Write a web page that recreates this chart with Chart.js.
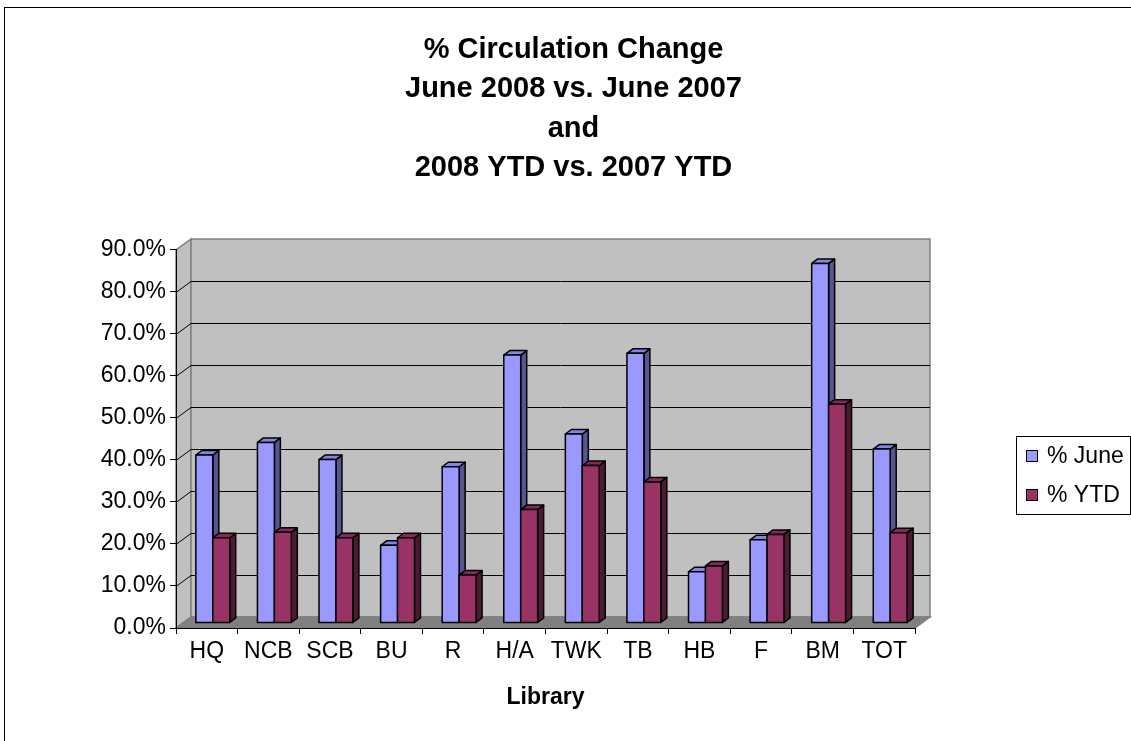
<!DOCTYPE html>
<html>
<head>
<meta charset="utf-8">
<script src="https://cdn.jsdelivr.net/npm/chart.js@4.4.1/dist/chart.umd.min.js"></script>
<style>
  html, body { margin: 0; padding: 0; background: #fff; }
</style>
</head>
<body>
<canvas id="chart" width="1131" height="741"></canvas>
<script>
// data
const categories = ['HQ', 'NCB', 'SCB', 'BU', 'R', 'H/A', 'TWK', 'TB', 'HB', 'F', 'BM', 'TOT'];
const juneValues = [40.0, 43.0, 38.9, 18.5, 37.2, 63.8, 45.0, 64.2, 12.2, 19.8, 85.6, 41.4];
const ytdValues  = [20.3, 21.6, 20.3, 20.3, 11.4, 27.0, 37.5, 33.6, 13.6, 21.1, 52.1, 21.5];
const seriesNames = ['% June', '% YTD'];
const titleLines = ['% Circulation Change', 'June 2008 vs. June 2007', 'and', '2008 YTD vs. 2007 YTD'];
const yMin = 0, yMax = 90, yStep = 10;

const FONT = "'Liberation Sans', Arial, sans-serif";
const colors = [
  { front: '#9999ff', top: '#8484e6', side: '#55558f' },
  { front: '#993366', top: '#85295a', side: '#4d1a33' }
];

// 3d look
const WALL_DX = 15, WALL_DY = -11;  // back wall offset from front axis
const BAR_X = 6, BAR_Y = -5;        // plane where the bar fronts sit
const BAR_DX = 6, BAR_DY = -4.5;    // bar thickness

function poly(ctx, pts, fill, stroke) {
  ctx.beginPath();
  ctx.moveTo(pts[0][0], pts[0][1]);
  for (let i = 1; i < pts.length; i++) ctx.lineTo(pts[i][0], pts[i][1]);
  ctx.closePath();
  if (fill) { ctx.fillStyle = fill; ctx.fill(); }
  if (stroke) { ctx.strokeStyle = stroke; ctx.stroke(); }
}

function drawBar(ctx, el, c) {
  const p = el.getProps(['x', 'y', 'base', 'width'], true);
  const l = p.x - p.width / 2 + BAR_X, r = p.x + p.width / 2 + BAR_X;
  const t = p.y + BAR_Y, b = p.base + BAR_Y;
  ctx.lineWidth = 1.5;
  ctx.lineJoin = 'round';
  poly(ctx, [[r, b], [r, t], [r + BAR_DX, t + BAR_DY], [r + BAR_DX, b + BAR_DY]], c.side, '#000');
  poly(ctx, [[l, t], [r, t], [r + BAR_DX, t + BAR_DY], [l + BAR_DX, t + BAR_DY]], c.top, '#000');
  poly(ctx, [[l, b], [r, b], [r, t], [l, t]], c.front, '#000');
}

const walls3d = {
  id: 'walls3d',
  beforeDraw(chart) {
    const { ctx, chartArea: a, scales } = chart;
    const ys = scales.y;
    ctx.save();
    ctx.fillStyle = '#fff';
    ctx.fillRect(0, 0, chart.width, chart.height);
    ctx.strokeStyle = '#000';
    ctx.lineWidth = 1;
    ctx.strokeRect(4.5, 7.5, chart.width + 20, chart.height + 20);

    const L = a.left, R = a.right, T = a.top, B = a.bottom;
    ctx.lineWidth = 1.5;
    // side wall
    poly(ctx, [[L, B], [L, T], [L + WALL_DX, T + WALL_DY], [L + WALL_DX, B + WALL_DY]], '#c0c0c0', '#808080');
    // back wall
    poly(ctx, [[L + WALL_DX, T + WALL_DY], [R + WALL_DX, T + WALL_DY], [R + WALL_DX, B + WALL_DY], [L + WALL_DX, B + WALL_DY]], '#c0c0c0', '#808080');
    // floor
    poly(ctx, [[L, B], [R, B], [R + WALL_DX, B + WALL_DY], [L + WALL_DX, B + WALL_DY]], '#808080', '#808080');

    // gridlines across side and back wall
    ctx.lineWidth = 1;
    ctx.strokeStyle = '#000';
    ys.ticks.forEach(tk => {
      if (tk.value <= yMin || tk.value >= yMax) return;
      const y = Math.round(ys.getPixelForValue(tk.value)) + 0.5;
      ctx.beginPath();
      ctx.moveTo(L, y);
      ctx.lineTo(L + WALL_DX, y + WALL_DY);
      ctx.lineTo(R + WALL_DX, y + WALL_DY);
      ctx.stroke();
    });
    ctx.restore();
  },
  beforeDatasetsDraw(chart) {
    const ctx = chart.ctx;
    const metas = chart.data.datasets.map((d, i) => chart.getDatasetMeta(i));
    ctx.save();
    categories.forEach((c, j) => {
      metas.forEach((m, i) => drawBar(ctx, m.data[j], colors[i]));
    });
    ctx.restore();
    return false;
  },
  afterDraw(chart) {
    const ctx = chart.ctx;
    ctx.save();
    ctx.fillStyle = '#fff';
    ctx.strokeStyle = '#000';
    ctx.lineWidth = 1;
    ctx.fillRect(1016.5, 436.5, 114, 78);
    ctx.strokeRect(1016.5, 436.5, 114, 78);
    ctx.font = '23px ' + FONT;
    ctx.textBaseline = 'middle';
    chart.data.datasets.forEach((ds, i) => {
      const cy = 457 + i * 39;
      ctx.fillStyle = colors[i].front;
      ctx.fillRect(1026.5, cy - 6.5, 11, 11);
      ctx.strokeRect(1026.5, cy - 6.5, 11, 11);
      ctx.fillStyle = '#000';
      ctx.fillText(ds.label, 1047, cy);
    });
    ctx.restore();
  }
};

new Chart(document.getElementById('chart'), {
  type: 'bar',
  data: {
    labels: categories,
    datasets: [
      { label: seriesNames[0], data: juneValues, backgroundColor: colors[0].front },
      { label: seriesNames[1], data: ytdValues, backgroundColor: colors[1].front }
    ]
  },
  options: {
    responsive: false,
    animation: false,
    datasets: { bar: { categoryPercentage: 0.55, barPercentage: 1.0 } },
    layout: { padding: { left: 16, right: 0, top: 0, bottom: 0 } },
    plugins: {
      legend: { display: false },
      tooltip: { enabled: false },
      title: {
        display: true,
        text: titleLines,
        color: '#000',
        font: { family: FONT, size: 29, weight: 'bold', lineHeight: 1.362 },
        padding: { top: 30, bottom: 62 }
      }
    },
    scales: {
      x: {
        ticks: { color: '#000', font: { family: FONT, size: 23 }, padding: 4, maxRotation: 0, autoSkip: false },
        grid: { drawOnChartArea: false, tickLength: 6, color: '#000', offset: true },
        border: { color: '#000', width: 1 },
        title: {
          display: true, text: 'Library', color: '#000',
          font: { family: FONT, size: 23, weight: 'bold' },
          padding: { top: 0, bottom: 30 }
        },
        afterFit: s => { s.height = 113; }
      },
      y: {
        min: yMin, max: yMax,
        ticks: { stepSize: yStep, color: '#000', font: { family: FONT, size: 23 }, padding: 4,
                 callback: v => v.toFixed(1) + '%' },
        grid: { drawOnChartArea: false, tickLength: 6, color: '#000' },
        border: { color: '#000', width: 1 },
        afterFit: s => { s.width = 160; }
      },
      yRight: {
        position: 'right', display: true,
        grid: { display: false }, border: { display: false }, ticks: { display: false },
        afterFit: s => { s.width = 216; }
      }
    }
  },
  plugins: [walls3d]
});
</script>
</body>
</html>
